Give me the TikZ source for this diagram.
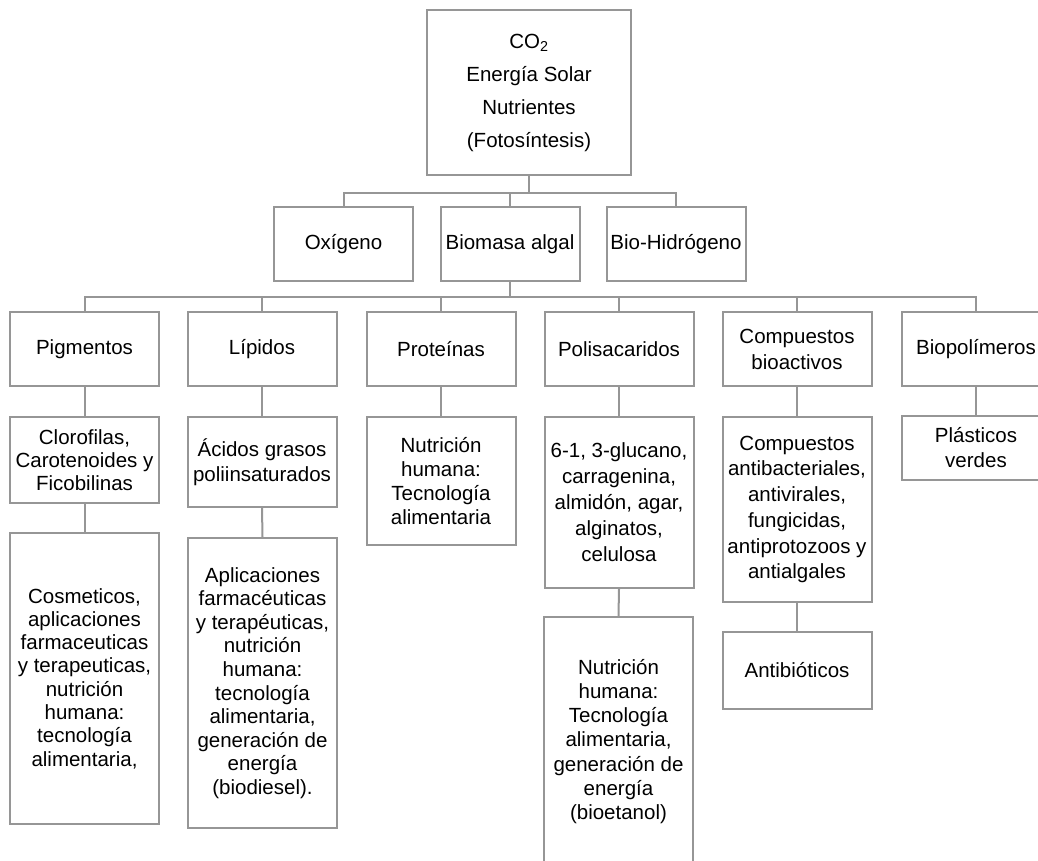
\documentclass[tikz,border=0pt]{standalone}
\usepackage{fontspec}
\setmainfont{Liberation Sans}
\definecolor{linegray}{RGB}{150,150,150}
\begin{document}
\begin{tikzpicture}[x=1pt,y=-1pt,
  box/.style={draw=linegray, line width=2pt, rectangle, inner sep=0pt, align=center,
    font=\fontsize{20.5}{24}\selectfont, minimum width=149},
  conn/.style={draw=linegray, line width=2pt}]
\useasboundingbox (0,0) rectangle (1038,861);
% top
\node[box, minimum width=204, minimum height=165, font=\fontsize{20.5}{33}\selectfont] (src) at (529,92.5)
  {CO\textsubscript{2}\\Energía Solar\\Nutrientes\\(Fotosíntesis)};
% level 2
\node[box, minimum width=139, minimum height=74] (ox) at (343.5,244) {Oxígeno};
\node[box, minimum width=139, minimum height=74] (bm) at (510,244) {Biomasa algal};
\node[box, minimum width=139, minimum height=74] (bh) at (676,244) {Bio-Hidrógeno};
% level 3
\node[box, minimum height=74] (pig) at (84.5,349) {Pigmentos};
\node[box, minimum height=74] (lip) at (262,349) {Lípidos};
\node[box, minimum height=74] (pro) at (441,349) {Proteínas};
\node[box, minimum height=74] (pol) at (619,349) {Polisacaridos};
\node[box, minimum height=74, font=\fontsize{20.5}{26}\selectfont] (cmp) at (797,349) {Compuestos\\bioactivos};
\node[box, minimum height=74] (bio) at (976,349) {Biopolímeros};
% level 4
\node[box, minimum height=86, font=\fontsize{20.5}{22.7}\selectfont] (pigc) at (84.5,460) {Clorofilas,\\Carotenoides y\\Ficobilinas};
\node[box, minimum height=90, font=\fontsize{20.5}{25}\selectfont] (lipc) at (262,462) {Ácidos grasos\\poliinsaturados};
\node[box, minimum height=128] (proc) at (441,481) {Nutrición\\humana:\\Tecnología\\alimentaria};
\node[box, minimum height=171, font=\fontsize{20.5}{26}\selectfont] (polc) at (619,502.5) {6-1, 3-glucano,\\carragenina,\\almidón, agar,\\alginatos,\\celulosa};
\node[box, minimum height=185, font=\fontsize{20.5}{25.7}\selectfont] (cmpc) at (797,509.5) {Compuestos\\antibacteriales,\\antivirales,\\fungicidas,\\antiprotozoos y\\antialgales};
\node[box, minimum height=64, font=\fontsize{20.5}{25}\selectfont] (bioc) at (976,448) {Plásticos\\verdes};
% level 5
\node[box, minimum height=291, font=\fontsize{20.5}{23.3}\selectfont] (pigd) at (84.5,678.5) {Cosmeticos,\\aplicaciones\\farmaceuticas\\y terapeuticas,\\nutrición\\humana:\\tecnología\\alimentaria,};
\node[box, minimum height=290, font=\fontsize{20.5}{23.6}\selectfont] (lipd) at (262.5,683) {Aplicaciones\\farmacéuticas\\y terapéuticas,\\nutrición\\humana:\\tecnología\\alimentaria,\\generación de\\energía\\(biodiesel).};
\node[box, minimum height=249, font=\fontsize{20.5}{24.2}\selectfont] (pold) at (618.5,741.5) {Nutrición\\humana:\\Tecnología\\alimentaria,\\generación de\\energía\\(bioetanol)};
\node[box, minimum height=77] (cmpd) at (797,670.5) {Antibióticos};
% buses
\coordinate (bus1) at (529,193);
\coordinate (bus2) at (509,297);
\draw[conn] (src.south) -- (bus1);
\draw[conn] (ox.north) |- (bus1);
\draw[conn] (bh.north) |- (bus1);
\draw[conn] (bm.north) -- (bm.north |- bus1);
\draw[conn] (bm.south) -- (bm.south |- bus2);
\draw[conn] (pig.north) |- (bus2);
\draw[conn] (bio.north) |- (bus2);
\draw[conn] (lip.north) -- (lip.north |- bus2);
\draw[conn] (pro.north) -- (pro.north |- bus2);
\draw[conn] (pol.north) -- (pol.north |- bus2);
\draw[conn] (cmp.north) -- (cmp.north |- bus2);
% columns
\draw[conn] (pig.south) -- (pigc.north);
\draw[conn] (pigc.south) -- (pigd.north);
\draw[conn] (lip.south) -- (lipc.north);
\draw[conn] (lipc.south) -- (lipd.north);
\draw[conn] (pro.south) -- (proc.north);
\draw[conn] (pol.south) -- (polc.north);
\draw[conn] (polc.south) -- (pold.north);
\draw[conn] (cmp.south) -- (cmpc.north);
\draw[conn] (cmpc.south) -- (cmpd.north);
\draw[conn] (bio.south) -- (bioc.north);
\end{tikzpicture}
\end{document}
